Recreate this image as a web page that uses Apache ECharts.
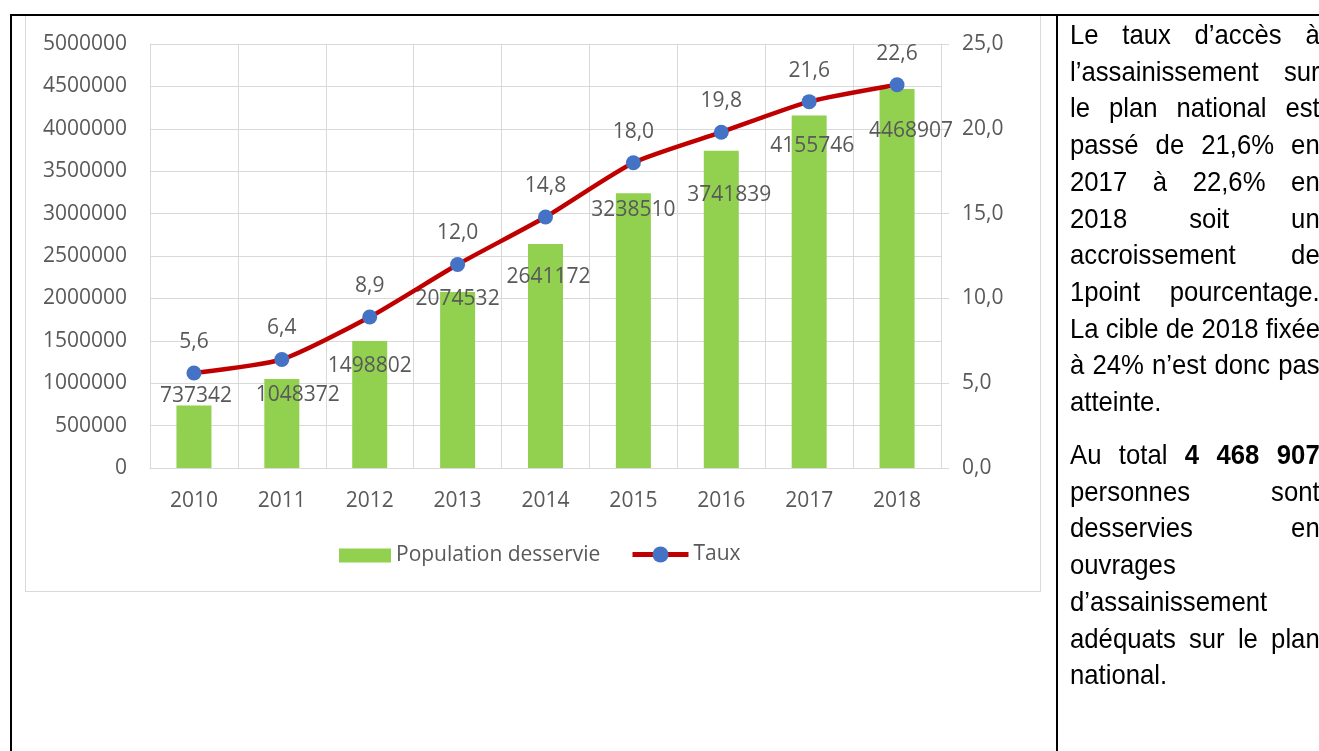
<!DOCTYPE html>
<html><head><meta charset="utf-8">
<script src="https://cdn.jsdelivr.net/npm/echarts@6/dist/echarts.min.js"></script>
<style>
html,body{margin:0;padding:0;background:#fff;overflow:hidden;width:1319px;height:751px;}
#chart{position:absolute;left:0;top:0;width:1319px;height:751px;}
.b{position:absolute;background:#000;}
#box{position:absolute;left:25px;top:15px;width:1014px;height:576px;border:1px solid #d9d9d9;border-top:none;}
#txt{position:absolute;left:1070px;top:17px;width:272px;transform:scaleX(0.918);transform-origin:0 0;font-family:"Liberation Sans",Arial,sans-serif;font-size:28px;line-height:36.7px;color:#000;}
#txt div{white-space:nowrap;}
.j{text-align:justify;text-align-last:justify;}
.l{text-align:left;}
.p2{margin-top:16.3px;}
</style></head>
<body>
<div id="box"></div>
<div id="chart"></div>
<div class="b" style="left:10px;top:14px;width:1309px;height:2px"></div>
<div class="b" style="left:10px;top:14px;width:2px;height:737px"></div>
<div class="b" style="left:1056px;top:14px;width:2px;height:737px"></div>
<div id="txt">
<div class="j">Le taux d’accès à</div>
<div class="j">l’assainissement sur</div>
<div class="j">le plan national est</div>
<div class="j">passé de 21,6% en</div>
<div class="j">2017 à 22,6% en</div>
<div class="j">2018 soit un</div>
<div class="j">accroissement de</div>
<div class="j">1point pourcentage.</div>
<div class="j">La cible de 2018 fixée</div>
<div class="j">à 24% n’est donc pas</div>
<div class="l">atteinte.</div>
<div class="j p2">Au total <b>4 468 907</b></div>
<div class="j">personnes sont</div>
<div class="j">desservies en</div>
<div class="l">ouvrages</div>
<div class="l">d’assainissement</div>
<div class="j">adéquats sur le plan</div>
<div class="l">national.</div>
</div>
<script>
const years = ['2010','2011','2012','2013','2014','2015','2016','2017','2018'];
const population = [737342,1048372,1498802,2074532,2641172,3238510,3741839,4155746,4468907];
const taux = [5.6,6.4,8.9,12.0,14.8,18.0,19.8,21.6,22.6];
const seriesNames = ['Population desservie','Taux'];
// label nudges (pixels) for the bar data labels, as placed in the original
const barLabelOffsets = [[2,-20],[16,5],[0,15],[0,-4],[3,22],[0,6],[8,34],[3,20],[14,31]];

const FONT = '"Open Sans", sans-serif';
const FS = 21;
const TXT = '#595959';
const GRID = '#d9d9d9';
const fmt1 = v => Number(v).toFixed(1).replace('.', ',');

const chart = echarts.init(document.getElementById('chart'), null, {renderer:'canvas'});
chart.setOption({
  animation:false,
  textStyle:{fontFamily:FONT},
  grid:{left:150,right:378,top:44,bottom:283,containLabel:false},
  legend:[{
    left:339, top:545, padding:0, itemWidth:52, itemHeight:14, itemGap:0,
    textStyle:{color:TXT,fontSize:FS,fontFamily:FONT},
    data:[{name:seriesNames[0],icon:'rect'}]
  },{
    left:630, top:544, padding:0, itemWidth:56, itemHeight:20, itemGap:0,
    textStyle:{color:TXT,fontSize:FS,fontFamily:FONT},
    lineStyle:{width:5},
    data:[{name:seriesNames[1]}]
  }],
  xAxis:{
    type:'category', data:years, boundaryGap:true,
    axisLine:{show:true,lineStyle:{color:GRID,width:1}},
    axisTick:{show:false},
    splitLine:{show:true,lineStyle:{color:GRID,width:1}},
    axisLabel:{color:TXT,fontSize:FS,margin:23,fontFamily:FONT}
  },
  yAxis:[{
    type:'value', min:0, max:5000000, interval:500000,
    axisLine:{show:true,lineStyle:{color:GRID}},
    axisTick:{show:false},
    splitLine:{show:true,lineStyle:{color:GRID,width:1}},
    axisLabel:{color:TXT,fontSize:FS,margin:23,fontFamily:FONT,formatter:v=>String(v)}
  },{
    type:'value', min:0, max:25, interval:5, position:'right',
    axisLine:{show:true,lineStyle:{color:GRID}},
    axisTick:{show:true,inside:false,length:8,lineStyle:{color:GRID}},
    splitLine:{show:false},
    axisLabel:{color:TXT,fontSize:FS,margin:21,fontFamily:FONT,formatter:fmt1}
  }],
  series:[{
    name:seriesNames[0], type:'bar', yAxisIndex:0, barWidth:35,
    itemStyle:{color:'#92d050'},
    data:population.map((v,i)=>({value:v,label:{offset:barLabelOffsets[i]}})),
    label:{show:true,position:'insideTop',distance:0,color:TXT,fontSize:FS,fontFamily:FONT},
    z:2
  },{
    name:seriesNames[1], type:'line', yAxisIndex:1, data:taux, smooth:0.2,
    symbol:'circle', symbolSize:15,
    lineStyle:{color:'#c00000',width:4.5},
    itemStyle:{color:'#4472c4'},
    label:{show:true,position:'top',distance:13,color:TXT,fontSize:FS,fontFamily:FONT,formatter:p=>fmt1(p.value)},
    z:3
  }]
});
</script>
</body></html>
